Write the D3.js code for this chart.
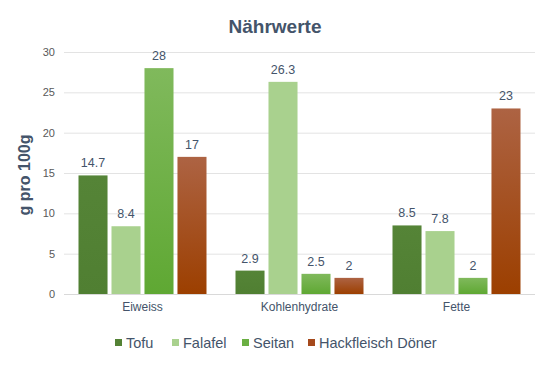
<!DOCTYPE html>
<html><head><meta charset="utf-8">
<script src="https://cdn.jsdelivr.net/npm/d3@7"></script>
<style>body{margin:0;background:#fff;font-family:"Liberation Sans",Arial,sans-serif}</style>
</head><body><svg id="c" width="546" height="370"></svg>
<script>
const categories = ["Eiweiss", "Kohlenhydrate", "Fette"];
const seriesNames = ["Tofu", "Falafel", "Seitan", "Hackfleisch Döner"];
const tofu = [14.7, 2.9, 8.5];
const falafel = [8.4, 26.3, 7.8];
const seitan = [28, 2.5, 2];
const doener = [17, 2, 23];
const yTicks = [0, 5, 10, 15, 20, 25, 30];

(function(){
const values = [tofu, falafel, seitan, doener];
const svg = d3.select("#c");
const defs = svg.append("defs");
function grad(id, t, b){
  const g = defs.append("linearGradient").attr("id", id).attr("x1",0).attr("y1",0).attr("x2",0).attr("y2",1);
  g.append("stop").attr("offset","0%").attr("stop-color",t);
  g.append("stop").attr("offset","100%").attr("stop-color",b);
}
grad("g0","#558437","#507f32");
grad("g1","#a9d18e","#a9d18e");
grad("g2","#80b95c","#5fa833");
grad("g3","#ad6343","#9c3f00");
const fills = ["url(#g0)","url(#g1)","url(#g2)","url(#g3)"];
const legendColors = ["#548235","#a9d18e","#6aaf42","#a5491c"];

const L = 64, R = 535, T = 52, B = 294;
const x0 = d3.scaleBand().domain(categories).range([L, R]).paddingInner(0).paddingOuter(0);
const x1 = d3.scaleBand().domain(seriesNames).range([14.5, x0.bandwidth()-14.5]).paddingInner(0.12).paddingOuter(0);
const y = d3.scaleLinear().domain([0, 30]).range([B, T]);

svg.append("g").selectAll("line").data(yTicks).join("line")
  .attr("x1", L).attr("x2", R).attr("y1", d=>y(d)+0.5).attr("y2", d=>y(d)+0.5)
  .attr("stroke", d=> d===0 ? "#d9d9d9" : "#e3e3e3").attr("stroke-width",1);

const yAxis = d3.axisLeft(y).tickValues(yTicks).tickSize(0).tickPadding(0);
const ya = svg.append("g").attr("transform", `translate(${L-9},0)`).call(yAxis);
ya.select(".domain").remove();
ya.selectAll("text").attr("fill","#595959").style("font-size","11px").style("font-family","Liberation Sans, Arial, sans-serif");

const xAxis = d3.axisBottom(x0).tickSize(0).tickPadding(0);
const xa = svg.append("g").attr("transform", `translate(0,${B+8})`).call(xAxis);
xa.select(".domain").remove();
xa.selectAll("text").attr("fill","#44546a").style("font-size","12px").style("font-family","Liberation Sans, Arial, sans-serif");

const groups = svg.append("g").selectAll("g").data(categories).join("g")
  .attr("transform", d=>`translate(${x0(d)},0)`);
groups.each(function(cat, ci){
  const g = d3.select(this);
  seriesNames.forEach((s, si)=>{
    const v = values[si][ci];
    g.append("rect").attr("x", x1(s)).attr("width", x1.bandwidth())
      .attr("y", y(v)).attr("height", y(0)-y(v)).attr("fill", fills[si]);
    g.append("text").attr("x", x1(s)+x1.bandwidth()/2).attr("y", y(v)-8)
      .attr("text-anchor","middle").attr("fill","#44546a").style("font-size","12.5px")
      .text(v);
  });
});

svg.append("text").attr("x", 275).attr("y", 33).attr("text-anchor","middle")
  .attr("fill","#44546a").style("font-size","19px").style("font-weight","bold").text("Nährwerte");

svg.append("text").attr("transform","translate(30,175) rotate(-90)").attr("text-anchor","middle")
  .attr("fill","#44546a").style("font-size","16px").style("font-weight","bold").text("g pro 100g");

const legendX = [115, 172, 242, 308];
const lg = svg.append("g");
seriesNames.forEach((s,i)=>{
  lg.append("rect").attr("x", legendX[i]).attr("y", 339).attr("width",7).attr("height",7).attr("fill", legendColors[i]);
  lg.append("text").attr("x", legendX[i]+11).attr("y", 348).attr("fill","#44546a").style("font-size","14.5px").text(s);
});
})();
</script></body></html>
